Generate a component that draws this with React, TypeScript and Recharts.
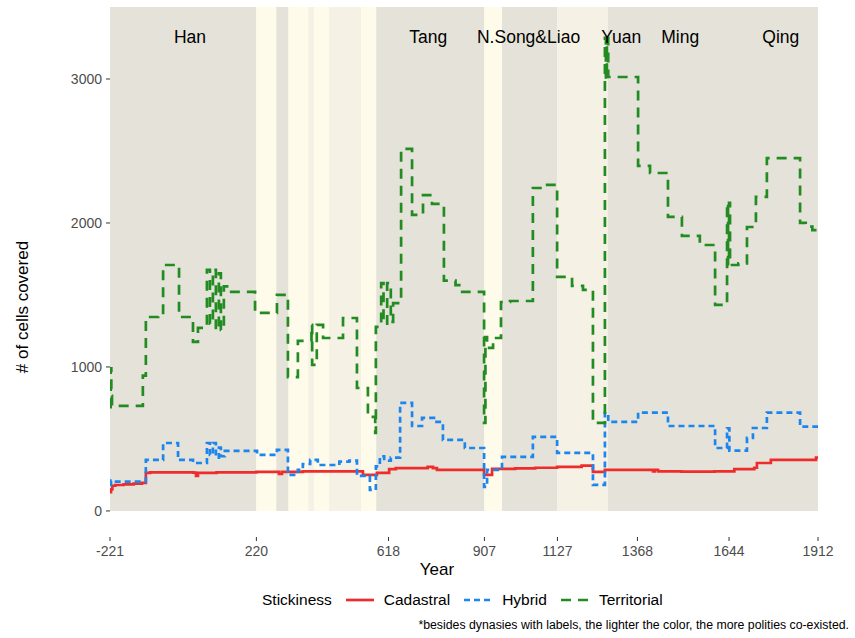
import React from 'react';
import { LineChart, Line, XAxis, YAxis, ReferenceArea, ReferenceDot, Label } from 'recharts';

// ---------- data ----------
const xTicks = [-221, 220, 618, 907, 1127, 1368, 1644, 1912];
const yTicks = [0, 1000, 2000, 3000];

// background periods; level: 1 = single dynasty, 2 = few polities, 3 = many polities
const periodStart = [-221, 220, 280, 317, 376, 394, 439, 535, 581, 907, 960, 1127, 1279];
const periodEnd = [220, 280, 317, 376, 394, 439, 535, 581, 907, 960, 1127, 1279, 1912];
const periodLevel = [1, 3, 1, 3, 2, 3, 2, 3, 1, 3, 1, 2, 1];

const dynastyNames = ['Han', 'Tang', 'N.Song&Liao', 'Yuan', 'Ming', 'Qing'];
const dynastyLabelYear = [20, 738, 1040, 1319, 1497, 1800];
const dynastyLabelValue = 3292;

const seriesNames = ['Cadastral', 'Hybrid', 'Territorial'];

const cadYears = [-221, -218, -214, -205, -180, -150, -125, -113, -100, 30, 38, 44, 100, 220, 288, 297, 360, 541, 583, 620, 640, 736, 752, 764, 903, 906, 930, 1000, 1060, 1126, 1200, 1234, 1270, 1400, 1415, 1420, 1430, 1500, 1600, 1660, 1720, 1728, 1770, 1900, 1906, 1912];
const cadValues = [130, 150, 175, 180, 185, 190, 195, 264, 268, 266, 243, 264, 268, 272, 257, 272, 275, 250, 264, 290, 298, 306, 298, 285, 285, 250, 292, 295, 300, 306, 315, 271, 285, 285, 275, 285, 275, 273, 275, 290, 300, 333, 354, 354, 370, 377];

const hybYears = [-221, -218, -213, -113, -61, -16, 29, 71, 80, 89, 98, 107, 113, 125, 222, 282, 315, 345, 360, 382, 405, 470, 500, 523, 562, 580, 592, 605, 625, 653, 689, 719, 755, 782, 848, 906, 915, 960, 1053, 1126, 1234, 1270, 1280, 1370, 1460, 1602, 1638, 1645, 1698, 1716, 1758, 1858, 1912];
const hybValues = [180, 210, 203, 354, 472, 354, 333, 472, 390, 472, 370, 440, 380, 417, 389, 424, 250, 285, 326, 354, 319, 342, 349, 243, 146, 310, 380, 350, 370, 750, 590, 646, 618, 493, 437, 167, 285, 375, 514, 403, 181, 681, 618, 683, 590, 437, 574, 419, 507, 576, 683, 585, 585];

const terYears = [-221, -219, -217, -215, -122, -113, -76, -61, -13, 29, 44, 71, 80, 89, 98, 107, 113, 122, 137, 216, 282, 315, 345, 386, 388, 402, 421, 481, 523, 556, 578, 580, 596, 603, 614, 625, 632, 656, 689, 722, 749, 785, 820, 840, 906, 910, 915, 933, 957, 984, 1053, 1090, 1126, 1171, 1204, 1234, 1270, 1273, 1276, 1280, 1370, 1406, 1460, 1502, 1556, 1602, 1638, 1641, 1644, 1647, 1672, 1698, 1725, 1758, 1858, 1875, 1895, 1912];
const terValues = [720, 990, 800, 730, 940, 1347, 1365, 1708, 1347, 1174, 1271, 1674, 1300, 1674, 1257, 1650, 1257, 1560, 1521, 1375, 1500, 930, 1181, 1292, 1014, 1292, 1201, 1340, 854, 653, 542, 1278, 1583, 1300, 1583, 1313, 1444, 2514, 2056, 2194, 2132, 1599, 1569, 1521, 611, 1208, 1132, 1201, 1451, 1458, 2243, 2264, 1625, 1563, 1535, 611, 3285, 3000, 3285, 3014, 2396, 2347, 2042, 1910, 1847, 1431, 2139, 1708, 2139, 1708, 1720, 1972, 2181, 2451, 2000, 1975, 1950, 1937];

const toRows = (xs: number[], ys: number[]) => xs.map((x, i) => ({ year: x, value: ys[i] }));
const cadData = toRows(cadYears, cadValues);
const hybData = toRows(hybYears, hybValues);
const terData = toRows(terYears, terValues);

// ---------- styles ----------
const FONT = '"Liberation Sans", Arial, Helvetica, sans-serif';
const levelFill: Record<number, string> = { 1: '#E5E3D9', 2: '#F5F1E5', 3: '#FFFBEB' };
const seriesStyle = [
  { color: '#EE2C2C', dash: undefined as string | undefined },
  { color: '#1C86EE', dash: '6 4' },
  { color: '#228B22', dash: '10 7' },
];

const DynLabel = (props: any) => (
  <text x={props.cx} y={props.cy} textAnchor="middle" dominantBaseline="central" fontSize={17.5} fill="#000" fontFamily={FONT}>
    {props.text}
  </text>
);

const XTitle = () => (
  <text x={437} y={569} textAnchor="middle" dominantBaseline="central" fontSize={17} fill="#000" fontFamily={FONT}>Year</text>
);
const YTitle = () => (
  <text x={22} y={307} transform="rotate(-90 22 307)" textAnchor="middle" dominantBaseline="central" fontSize={17} fill="#000" fontFamily={FONT}># of cells covered</text>
);

export default function App() {
  const seriesData = [cadData, hybData, terData];
  return (
    <div style={{ position: 'absolute', left: 0, top: 0, width: 855, height: 638, background: '#fff', fontFamily: FONT }}>
      <LineChart width={855} height={638} margin={{ top: 7, right: 37, bottom: 0, left: 0 }}>
        <XAxis
          dataKey="year"
          type="number"
          domain={[-221, 1912]}
          ticks={xTicks}
          allowDataOverflow
          axisLine={false}
          tickSize={4}
          tickMargin={5}
          tickLine={{ stroke: '#333333' }}
          tick={{ fill: '#4D4D4D', fontSize: 14, fontFamily: FONT }}
          height={101}
        >
          <Label content={<XTitle />} />
        </XAxis>
        <YAxis
          type="number"
          domain={[-181, 3500]}
          ticks={yTicks}
          allowDataOverflow
          axisLine={false}
          tickSize={4}
          tickMargin={4}
          tickLine={{ stroke: '#333333' }}
          tick={{ fill: '#4D4D4D', fontSize: 14, fontFamily: FONT }}
          width={110}
        >
          <Label content={<YTitle />} />
        </YAxis>
        {periodStart.map((s, i) => (
          <ReferenceArea key={'p' + i} x1={s} x2={periodEnd[i]} y1={0} y2={3500} fill={levelFill[periodLevel[i]]} fillOpacity={1} stroke="none" ifOverflow="visible" />
        ))}
        {dynastyNames.map((n, i) => (
          <ReferenceDot key={'d' + i} x={dynastyLabelYear[i]} y={dynastyLabelValue} r={0} ifOverflow="visible" shape={(p: any) => <DynLabel {...p} text={n} />} />
        ))}
        {seriesNames.map((name, i) => (
          <Line
            key={name}
            data={seriesData[i]}
            dataKey="value"
            name={name}
            type="stepAfter"
            stroke={seriesStyle[i].color}
            strokeWidth={2.7}
            strokeDasharray={seriesStyle[i].dash}
            dot={false}
            activeDot={false}
            isAnimationActive={false}
          />
        ))}
      </LineChart>
      <div style={{ position: 'absolute', left: 262, top: 589, height: 22, display: 'flex', alignItems: 'center', fontSize: 15.5, color: '#000', whiteSpace: 'nowrap' }}>
        <span>Stickiness</span>
        {seriesNames.map((name, i) => (
          <React.Fragment key={name}>
            <svg width={34} height={20} style={{ marginLeft: 11, marginRight: 7 }}>
              <line x1={3} x2={31} y1={10} y2={10} stroke={seriesStyle[i].color} strokeWidth={2.7} strokeDasharray={seriesStyle[i].dash} />
            </svg>
            <span>{name}</span>
          </React.Fragment>
        ))}
      </div>
      <div style={{ position: 'absolute', right: 6, top: 618, fontSize: 12.3, color: '#000', whiteSpace: 'nowrap' }}>
        *besides dynasies with labels, the lighter the color, the more polities co-existed.
      </div>
    </div>
  );
}
